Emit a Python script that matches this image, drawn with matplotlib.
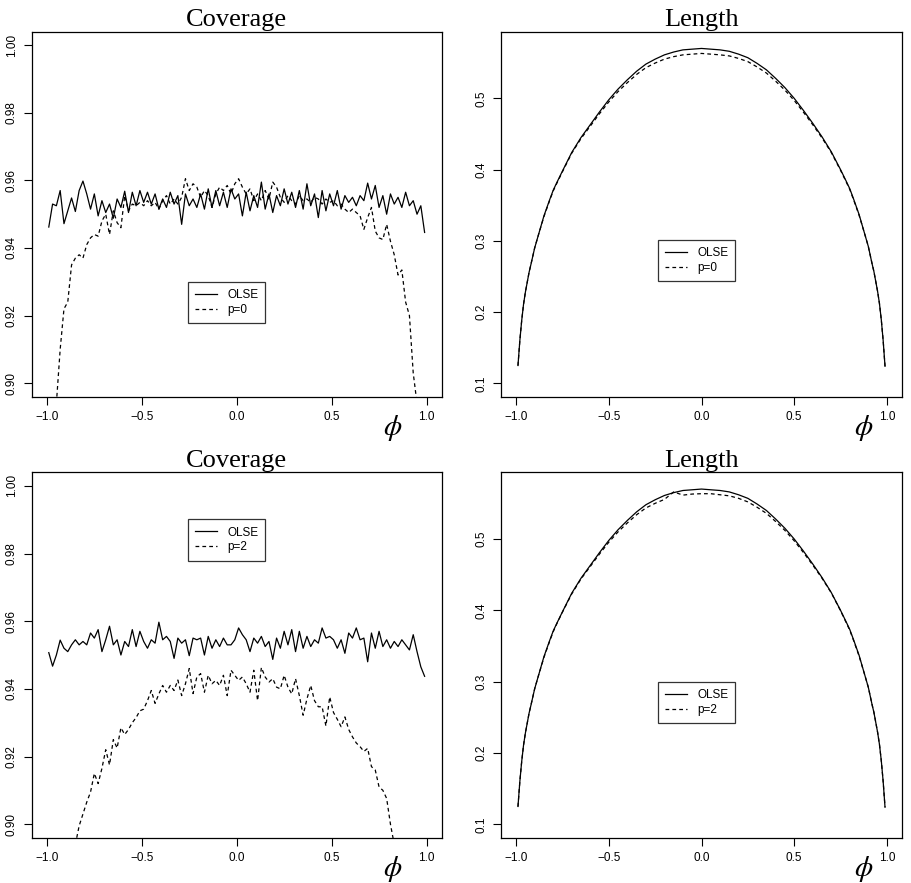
import numpy as np
import matplotlib
matplotlib.use("Agg")
import matplotlib.pyplot as plt

plt.rcParams["font.family"] = ["Liberation Sans", "DejaVu Sans"]
plt.rcParams["mathtext.fontset"] = "stix"

# phi grid used in the coverage simulations
PHI = [-0.99, -0.97, -0.95, -0.93, -0.91, -0.89, -0.87, -0.85, -0.83, -0.81,
       -0.79, -0.77, -0.75, -0.73, -0.71, -0.69, -0.67, -0.65, -0.63, -0.61,
       -0.59, -0.57, -0.55, -0.53, -0.51, -0.49, -0.47, -0.45, -0.43, -0.41,
       -0.39, -0.37, -0.35, -0.33, -0.31, -0.29, -0.27, -0.25, -0.23, -0.21,
       -0.19, -0.17, -0.15, -0.13, -0.11, -0.09, -0.07, -0.05, -0.03, -0.01,
       0.01, 0.03, 0.05, 0.07, 0.09, 0.11, 0.13, 0.15, 0.17, 0.19,
       0.21, 0.23, 0.25, 0.27, 0.29, 0.31, 0.33, 0.35, 0.37, 0.39,
       0.41, 0.43, 0.45, 0.47, 0.49, 0.51, 0.53, 0.55, 0.57, 0.59,
       0.61, 0.63, 0.65, 0.67, 0.69, 0.71, 0.73, 0.75, 0.77, 0.79,
       0.81, 0.83, 0.85, 0.87, 0.89, 0.91, 0.93, 0.95, 0.97, 0.99]

nan = np.nan

cov_olse_top = [
    0.9462, 0.9530, 0.9525, 0.9570, 0.9472, 0.9510, 0.9548, 0.9508, 0.9570, 0.9598,
    0.9560, 0.9515, 0.9560, 0.9495, 0.9540, 0.9505, 0.9530, 0.9488, 0.9545, 0.9520,
    0.9568, 0.9505, 0.9565, 0.9525, 0.9570, 0.9535, 0.9565, 0.9530, 0.9560, 0.9515,
    0.9545, 0.9520, 0.9565, 0.9530, 0.9555, 0.9470, 0.9560, 0.9525, 0.9545, 0.9520,
    0.9560, 0.9515, 0.9575, 0.9520, 0.9570, 0.9525, 0.9565, 0.9520, 0.9575, 0.9545,
    0.9560, 0.9495, 0.9565, 0.9510, 0.9555, 0.9520, 0.9595, 0.9515, 0.9560, 0.9505,
    0.9555, 0.9525, 0.9575, 0.9530, 0.9565, 0.9520, 0.9570, 0.9515, 0.9590, 0.9525,
    0.9560, 0.9490, 0.9570, 0.9510, 0.9560, 0.9525, 0.9570, 0.9515, 0.9555, 0.9535,
    0.9550, 0.9525, 0.9555, 0.9540, 0.9592, 0.9545, 0.9585, 0.9520, 0.9555, 0.9500,
    0.9560, 0.9530, 0.9550, 0.9520, 0.9565, 0.9525, 0.9540, 0.9500, 0.9525, 0.9446]

cov_p0 = [
    nan, nan, 0.8940, 0.9100, 0.9220, 0.9240, 0.9350, 0.9370, 0.9380, 0.9370,
    0.9410, 0.9430, 0.9440, 0.9435, 0.9480, 0.9500, 0.9440, 0.9510, 0.9475, 0.9460,
    0.9555, 0.9510, 0.9530, 0.9525, 0.9535, 0.9525, 0.9540, 0.9525, 0.9535, 0.9515,
    0.9540, 0.9555, 0.9530, 0.9545, 0.9530, 0.9550, 0.9605, 0.9570, 0.9590, 0.9580,
    0.9550, 0.9570, 0.9555, 0.9520, 0.9560, 0.9580, 0.9570, 0.9585, 0.9560, 0.9590,
    0.9605, 0.9580, 0.9560, 0.9575, 0.9540, 0.9560, 0.9540, 0.9570, 0.9545, 0.9595,
    0.9580, 0.9550, 0.9535, 0.9555, 0.9540, 0.9530, 0.9555, 0.9540, 0.9545, 0.9535,
    0.9550, 0.9545, 0.9530, 0.9545, 0.9535, 0.9540, 0.9525, 0.9530, 0.9515, 0.9505,
    0.9515, 0.9505, 0.9495, 0.9455, 0.9490, 0.9520, 0.9450, 0.9430, 0.9425, 0.9470,
    0.9420, 0.9380, 0.9320, 0.9335, 0.9240, 0.9200, 0.9030, 0.8940, nan, nan]

cov_olse_bottom = [
    0.9507, 0.9467, 0.9500, 0.9544, 0.9520, 0.9510, 0.9530, 0.9545, 0.9530, 0.9540,
    0.9530, 0.9565, 0.9550, 0.9575, 0.9510, 0.9545, 0.9585, 0.9530, 0.9545, 0.9500,
    0.9540, 0.9525, 0.9575, 0.9525, 0.9570, 0.9540, 0.9520, 0.9545, 0.9535, 0.9597,
    0.9545, 0.9555, 0.9540, 0.9490, 0.9550, 0.9535, 0.9545, 0.9498, 0.9550, 0.9545,
    0.9550, 0.9500, 0.9555, 0.9520, 0.9545, 0.9525, 0.9550, 0.9530, 0.9530, 0.9545,
    0.9580, 0.9560, 0.9545, 0.9510, 0.9550, 0.9535, 0.9555, 0.9525, 0.9540, 0.9487,
    0.9550, 0.9520, 0.9570, 0.9530, 0.9575, 0.9510, 0.9570, 0.9520, 0.9555, 0.9525,
    0.9545, 0.9535, 0.9580, 0.9550, 0.9555, 0.9545, 0.9520, 0.9545, 0.9505, 0.9565,
    0.9550, 0.9580, 0.9545, 0.9550, 0.9480, 0.9565, 0.9520, 0.9570, 0.9525, 0.9545,
    0.9520, 0.9540, 0.9525, 0.9545, 0.9530, 0.9515, 0.9560, 0.9510, 0.9465, 0.9437]

cov_p2 = [
    nan, nan, nan, nan, nan, nan, nan, 0.8940, 0.8995, 0.9030,
    0.9065, 0.9095, 0.9150, 0.9120, 0.9165, 0.9220, 0.9175, 0.9250, 0.9225, 0.9285,
    0.9265, 0.9280, 0.9300, 0.9315, 0.9335, 0.9340, 0.9365, 0.9395, 0.9357, 0.9385,
    0.9410, 0.9390, 0.9410, 0.9395, 0.9426, 0.9380, 0.9415, 0.9460, 0.9386, 0.9435,
    0.9445, 0.9390, 0.9440, 0.9415, 0.9425, 0.9410, 0.9440, 0.9380, 0.9455, 0.9440,
    0.9425, 0.9435, 0.9415, 0.9390, 0.9455, 0.9365, 0.9463, 0.9435, 0.9420, 0.9430,
    0.9405, 0.9400, 0.9440, 0.9405, 0.9385, 0.9430, 0.9380, 0.9322, 0.9370, 0.9410,
    0.9365, 0.9347, 0.9347, 0.9290, 0.9376, 0.9330, 0.9310, 0.9288, 0.9317, 0.9280,
    0.9258, 0.9240, 0.9229, 0.9215, 0.9224, 0.9170, 0.9160, 0.9110, 0.9100, 0.9076,
    0.9000, 0.8940, nan, nan, nan, nan, nan, nan, nan, nan]

# phi grid used for interval lengths (denser near the ends)
PHI_LEN = [-0.99, -0.98, -0.97, -0.96, -0.95, -0.93, -0.92, -0.90, -0.88, -0.85,
           -0.82, -0.80, -0.78, -0.75, -0.70, -0.65, -0.60, -0.55, -0.50, -0.45,
           -0.40, -0.35, -0.30, -0.25, -0.20, -0.15, -0.10, -0.05, 0.00, 0.05,
           0.10, 0.15, 0.20, 0.25, 0.30, 0.35, 0.40, 0.45, 0.50, 0.55,
           0.60, 0.65, 0.70, 0.75, 0.78, 0.80, 0.82, 0.85, 0.88, 0.90,
           0.92, 0.93, 0.95, 0.96, 0.97, 0.98, 0.99]

len_olse = [
    0.125, 0.160, 0.188, 0.211, 0.228, 0.256, 0.267, 0.290, 0.308, 0.335,
    0.357, 0.371, 0.382, 0.398, 0.424, 0.445, 0.463, 0.481, 0.498, 0.513,
    0.526, 0.538, 0.548, 0.555, 0.561, 0.565, 0.568, 0.569, 0.570, 0.569,
    0.568, 0.566, 0.562, 0.557, 0.549, 0.540, 0.528, 0.515, 0.500, 0.483,
    0.465, 0.446, 0.425, 0.400, 0.384, 0.373, 0.359, 0.337, 0.310, 0.292,
    0.268, 0.257, 0.229, 0.212, 0.189, 0.160, 0.124]

len_p0 = [
    0.125, 0.160, 0.188, 0.211, 0.228, 0.256, 0.267, 0.290, 0.308, 0.334,
    0.356, 0.370, 0.381, 0.397, 0.423, 0.4435, 0.461, 0.4785, 0.495, 0.5095,
    0.522, 0.5335, 0.543, 0.5495, 0.555, 0.5585, 0.561, 0.562, 0.563, 0.562,
    0.561, 0.5595, 0.556, 0.5515, 0.544, 0.5355, 0.524, 0.5115, 0.497, 0.4805,
    0.463, 0.4445, 0.424, 0.399, 0.383, 0.372, 0.358, 0.336, 0.310, 0.292,
    0.268, 0.257, 0.229, 0.212, 0.189, 0.160, 0.124]

len_p2 = [
    0.125, 0.160, 0.188, 0.211, 0.228, 0.256, 0.267, 0.290, 0.308, 0.334,
    0.356, 0.370, 0.3815, 0.3975, 0.423, 0.444, 0.4615, 0.479, 0.4955, 0.510,
    0.5225, 0.534, 0.5435, 0.550, 0.5555, 0.566, 0.5615, 0.563, 0.5635, 0.5635,
    0.562, 0.5605, 0.557, 0.552, 0.5445, 0.536, 0.5245, 0.512, 0.4975, 0.481,
    0.4635, 0.445, 0.4245, 0.3995, 0.383, 0.372, 0.358, 0.336, 0.310, 0.292,
    0.268, 0.257, 0.229, 0.212, 0.189, 0.160, 0.124]

X_TICKS = [-1.0, -0.5, 0.0, 0.5, 1.0]
COV_TICKS = [0.90, 0.92, 0.94, 0.96, 0.98, 1.00]
LEN_TICKS = [0.1, 0.2, 0.3, 0.4, 0.5]

fig = plt.figure(figsize=(9.12, 8.83), dpi=100)
W, H = 912, 883


def make_axes(left, top, right, bottom):
    return fig.add_axes([left / W, (H - bottom) / H, (right - left) / W, (bottom - top) / H])


def style(ax, title, yticks, ylim, phi_x):
    ax.set_xlim(-1.08, 1.08)
    ax.set_ylim(*ylim)
    ax.set_xticks(X_TICKS)
    ax.set_xticklabels([f"{t:.1f}".replace("-", "\u2212") for t in X_TICKS])
    ax.set_yticks(yticks)
    fmt = "{:.2f}" if yticks[0] > 0.5 else "{:.1f}"
    ax.set_yticklabels([fmt.format(t) for t in yticks], rotation=90, va="center")
    ax.tick_params(direction="out", length=6, width=0.8, labelsize=8.5, pad=4)
    for s in ax.spines.values():
        s.set_linewidth(0.9)
    ax.set_title(title, fontsize=19, family=["Liberation Serif"], pad=4)
    ax.text(phi_x, -0.085, r"$\phi$", transform=ax.transAxes, fontsize=21,
            ha="center", va="center")


def draw(ax, x, a, b, label_b, anchor):
    ax.plot(x, a, color="black", lw=0.9, label="OLSE")
    ax.plot(x, b, color="black", lw=0.9, dashes=(3, 2.5), label=label_b)
    leg = ax.legend(loc="upper left", bbox_to_anchor=anchor, frameon=True,
                    fancybox=False, edgecolor="black", fontsize=8.5,
                    handlelength=1.8, borderpad=0.6, labelspacing=0.25,
                    handletextpad=0.9, borderaxespad=0)
    leg.get_frame().set_linewidth(0.9)


ax1 = make_axes(31.7, 31.7, 441.7, 396.7)
draw(ax1, PHI, cov_olse_top, cov_p0, "p=0", (0.382, 0.315))
style(ax1, "Coverage", COV_TICKS, (0.896, 1.004), 0.881)

ax2 = make_axes(501.3, 31.7, 901.7, 396.7)
draw(ax2, PHI_LEN, len_olse, len_p0, "p=0", (0.392, 0.429))
style(ax2, "Length", LEN_TICKS, (0.0812, 0.5935), 0.904)

ax3 = make_axes(31.7, 472.3, 441.7, 837.7)
draw(ax3, PHI, cov_olse_bottom, cov_p2, "p=2", (0.382, 0.871))
style(ax3, "Coverage", COV_TICKS, (0.896, 1.004), 0.881)

ax4 = make_axes(501.3, 472.3, 901.7, 837.7)
draw(ax4, PHI_LEN, len_olse, len_p2, "p=2", (0.392, 0.427))
style(ax4, "Length", LEN_TICKS, (0.0812, 0.5935), 0.904)

fig.savefig("out.png", dpi=100)
